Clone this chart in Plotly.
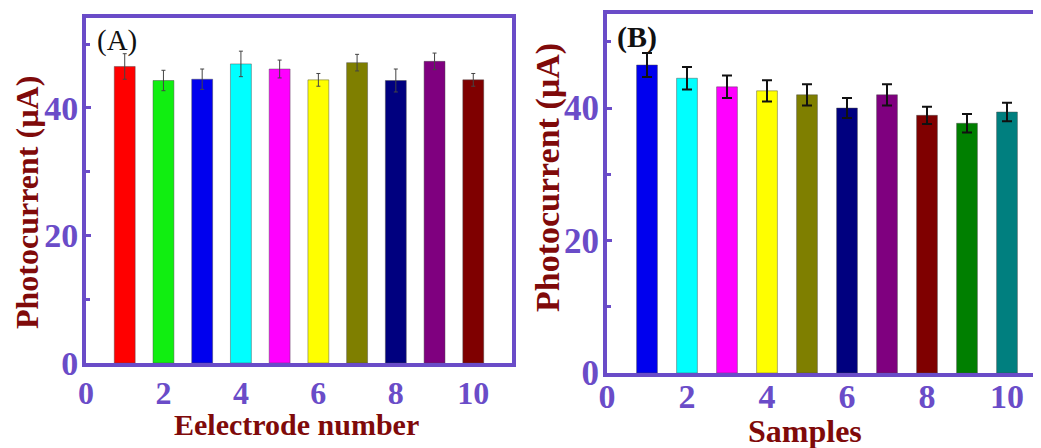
import plotly.graph_objects as go

# ---- data ----
electrodes = [1, 2, 3, 4, 5, 6, 7, 8, 9, 10]
current_a = [46.5, 44.3, 44.5, 46.9, 46.1, 44.4, 47.1, 44.3, 47.3, 44.4]
err_a = [2.0, 1.6, 1.6, 2.0, 1.4, 1.0, 1.3, 1.8, 1.3, 1.0]
colors_a = ["#ff0000", "#11ee11", "#0000ee", "#00ffff", "#ff00ff",
            "#ffff00", "#7f7f00", "#00007f", "#7f007f", "#7f0000"]

samples = [1, 2, 3, 4, 5, 6, 7, 8, 9, 10]
current_b = [46.5, 44.5, 43.2, 42.6, 42.0, 40.0, 42.0, 38.9, 37.7, 39.4]
err_b = [1.8, 1.7, 1.7, 1.6, 1.6, 1.5, 1.6, 1.3, 1.4, 1.4]
colors_b = ["#0000ee", "#00ffff", "#ff00ff", "#ffff00", "#7f7f00",
            "#00007f", "#7f007f", "#7f0000", "#007f00", "#007f7f"]

x_ticks = [0, 2, 4, 6, 8, 10]
y_ticks = [0, 20, 40]
y_minor = [10, 30, 50]

FRAME = "#6a4cc8"
TITLE = "#7f0a0a"
SERIF = "Liberation Serif"

# page has an 8px body margin; size the figure to fill the visible window
OFF = 8
W, H = 1041 - OFF, 448 - OFF


def px(x):
    return (x - OFF) / W


def py(y):
    return 1 - (y - OFF) / H


fig = go.Figure()
fig.add_trace(go.Bar(
    x=electrodes, y=current_a, width=0.54,
    marker=dict(color=colors_a, line=dict(color="rgba(70,70,70,0.45)", width=1)),
    error_y=dict(type="data", array=err_a, color="#444444", thickness=1, width=2),
    xaxis="x", yaxis="y", showlegend=False))
fig.add_trace(go.Bar(
    x=samples, y=current_b, width=0.52,
    marker=dict(color=colors_b, line=dict(color="rgba(70,70,70,0.45)", width=1)),
    error_y=dict(type="data", array=err_b, color="#111111", thickness=2, width=5),
    xaxis="x2", yaxis="y2", showlegend=False))


def xax(domain, rng, size, standoff):
    return dict(domain=domain, range=rng, tickvals=x_ticks, automargin=False,
                showline=True, linewidth=4, linecolor=FRAME, mirror=True,
                ticks="", showgrid=False, zeroline=False, ticklabelstandoff=standoff,
                tickfont=dict(family=SERIF, size=size, color=FRAME, weight="bold"))


def yax(domain, rng, size, mirror):
    return dict(domain=domain, range=rng, tickvals=y_ticks, automargin=False,
                showline=True, linewidth=4, linecolor=FRAME, mirror=mirror,
                ticks="inside", ticklen=5, tickwidth=3, tickcolor=FRAME,
                minor=dict(tickvals=y_minor, ticks="inside", ticklen=4,
                           tickwidth=3, tickcolor=FRAME),
                showgrid=False, zeroline=False, ticklabelstandoff=-3,
                tickfont=dict(family=SERIF, size=size, color=FRAME, weight="bold"))


xa = xax([px(86), px(512)], [0, 11], 32, -1)
xa["anchor"] = "y"
ya = yax([py(363), py(18)], [0, 54.1], 34, True)
ya["anchor"] = "x"
xb = xax([px(607), 1.0], [0, 10.85], 34, -10)
xb["anchor"] = "y2"
yb = yax([py(373), py(14)], [0, 54.2], 35, False)
yb["anchor"] = "x2"

annotations = [
    dict(text="Photocurrent (µA)", x=px(27), y=py(203), textangle=-90,
         font=dict(family=SERIF, size=32, color=TITLE, weight="bold")),
    dict(text="Eelectrode number", x=px(296), y=py(424),
         font=dict(family=SERIF, size=30, color=TITLE, weight="bold")),
    dict(text="Photocurrent (µA)", x=px(548), y=py(178), textangle=-90,
         font=dict(family=SERIF, size=34, color=TITLE, weight="bold")),
    dict(text="Samples", x=px(805), y=py(431),
         font=dict(family=SERIF, size=32, color=TITLE, weight="bold")),
    dict(text="(A)", x=px(117), y=py(40),
         font=dict(family=SERIF, size=29, color="#111111")),
    dict(text="(B)", x=px(637), y=py(37),
         font=dict(family=SERIF, size=30, color="#111111", weight="bold")),
]
for a in annotations:
    a.update(xref="paper", yref="paper", showarrow=False,
             xanchor="center", yanchor="middle")

fig.update_layout(
    width=W, height=H,
    margin=dict(l=0, r=0, t=0, b=0, pad=0, autoexpand=False),
    paper_bgcolor="white", plot_bgcolor="white",
    xaxis=xa, yaxis=ya, xaxis2=xb, yaxis2=yb,
    annotations=annotations, bargap=0.4, showlegend=False,
)

fig.write_html("out.html")
